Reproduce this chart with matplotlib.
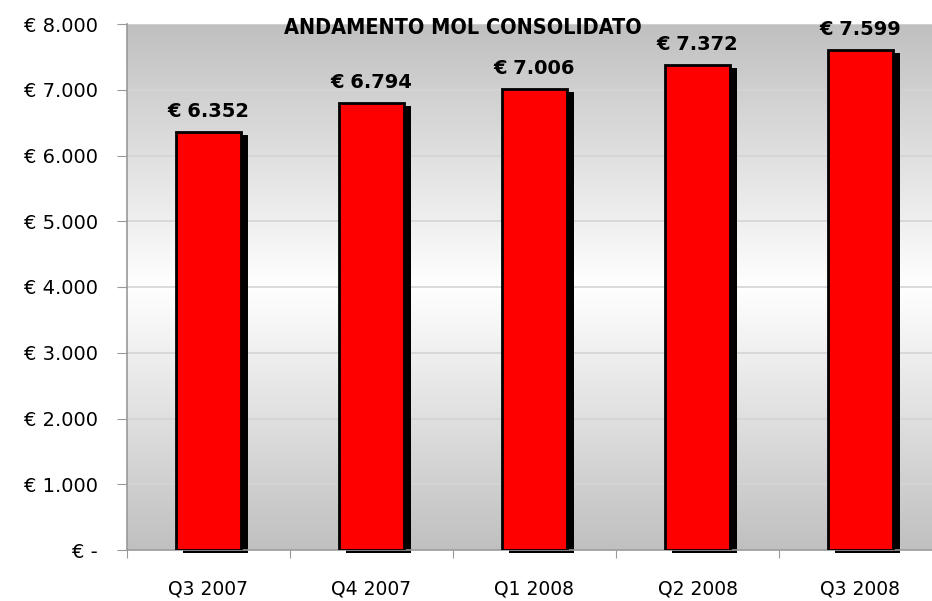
import numpy as np
import matplotlib
matplotlib.use('Agg')
import matplotlib.pyplot as plt
from matplotlib.colors import LinearSegmentedColormap

quarters = ['Q3 2007', 'Q4 2007', 'Q1 2008', 'Q2 2008', 'Q3 2008']
mol = [6352, 6794, 7006, 7372, 7599]
yticks = [0, 1000, 2000, 3000, 4000, 5000, 6000, 7000, 8000]
ylabels = ['€ -', '€ 1.000', '€ 2.000', '€ 3.000', '€ 4.000',
           '€ 5.000', '€ 6.000', '€ 7.000', '€ 8.000']

plt.rcParams['font.family'] = ['DejaVu Sans']

fig = plt.figure(figsize=(9.32, 6.01), dpi=100)
ax = fig.add_axes([127/932, 51/601, 815/932, 526/601])

x = np.arange(len(quarters))

# gray -> white -> gray background
cmap = LinearSegmentedColormap.from_list('bg', ['#c0c0c0', '#ffffff', '#c0c0c0'])
grad = np.linspace(0, 1, 256).reshape(-1, 1)
ax.imshow(grad, cmap=cmap, extent=[-0.5, 4.5, 0, 8000], aspect='auto', zorder=0)

# shadow then bars
ax.bar(x + 0.045, mol, width=0.4, bottom=-40, color='black', zorder=2, clip_on=False)
ax.bar(x, mol, width=0.4, color='red', edgecolor='black', linewidth=2, zorder=3)

for xi, v in zip(x, mol):
    ax.text(xi, v + 170, '€ ' + f'{v:,}'.replace(',', '.'), ha='center', va='bottom',
            fontsize=14, fontweight='bold', zorder=4)

ax.set_xlim(-0.5, 4.5)
ax.set_ylim(0, 8000)
ax.set_yticks(yticks)
ax.set_yticklabels(ylabels, fontsize=14)
ax.yaxis.grid(True, color='#d4d4d4', linewidth=1.2)
ax.set_axisbelow(True)

ax.set_xticks(np.arange(-0.5, 5, 1))
ax.set_xticklabels([])
ax.set_xticks(x, minor=True)
ax.set_xticklabels(quarters, minor=True, fontsize=13.5)
ax.tick_params(axis='x', which='minor', length=0, pad=21)
ax.tick_params(axis='x', which='major', length=6, color='#999999')
ax.tick_params(axis='y', length=7, color='#999999', pad=14)

for s in ['top', 'right']:
    ax.spines[s].set_visible(False)
for s in ['left', 'bottom']:
    ax.spines[s].set_color('#999999')
    ax.spines[s].set_linewidth(1.2)

fig.text(0.497, 0.954, 'ANDAMENTO MOL CONSOLIDATO', ha='center', va='center',
         fontsize=15.5, fontweight='bold', fontstretch='condensed')

fig.savefig('out.png', dpi=100)
